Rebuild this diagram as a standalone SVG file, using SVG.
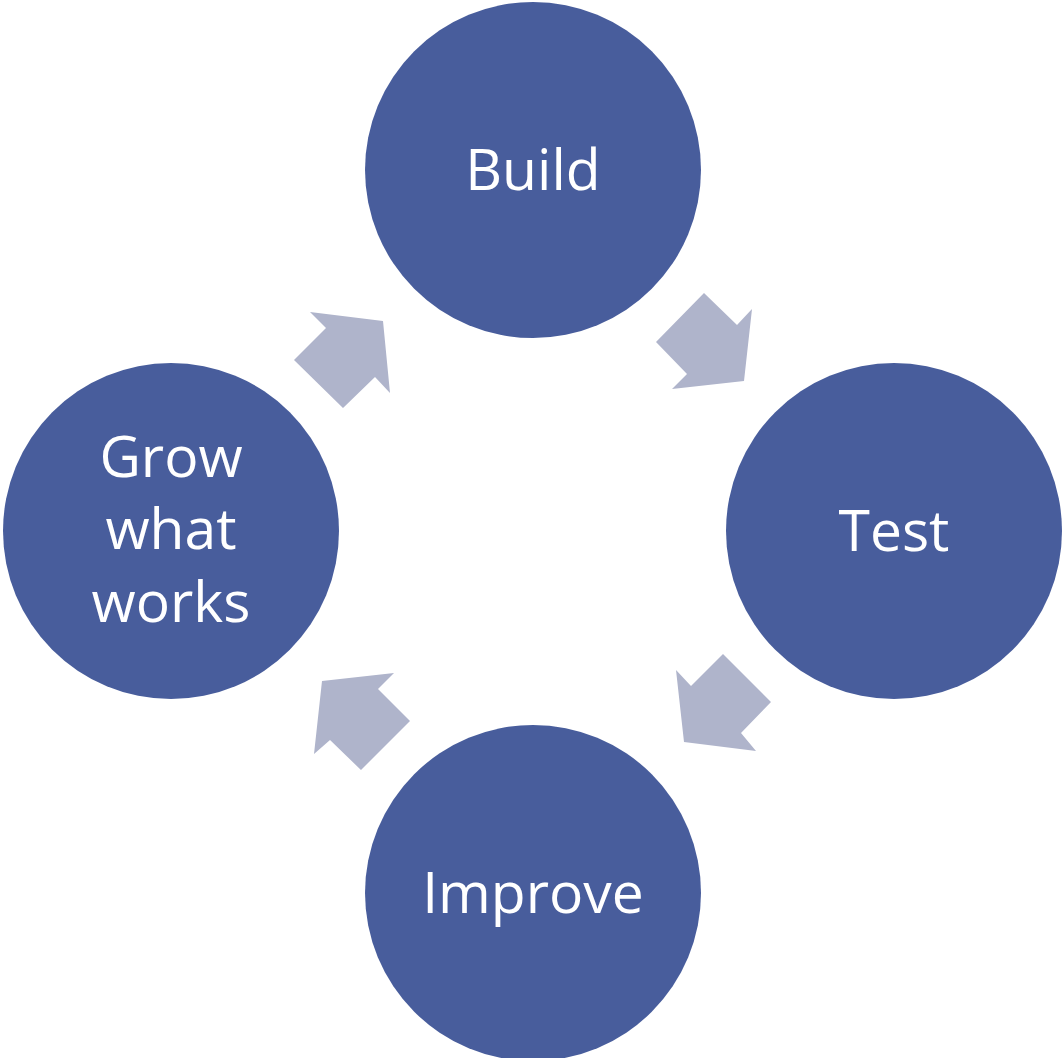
<svg xmlns="http://www.w3.org/2000/svg" width="1063" height="1058" viewBox="0 0 1063 1058">
<style>
.node{fill:#485D9C}
.lbl{fill:#FFFFFF;font-family:"Open Sans","Noto Sans",sans-serif;font-size:57px;text-anchor:middle}
.arr{fill:#AFB4CB}
</style>
<rect width="1063" height="1058" fill="#FFFFFF"/>
<g id="connectors">
<polygon class="arr" points="704,293 737,325 752,309 744,381 672,389 687,374 656,342"/>
<polygon class="arr" points="723,654 771,702 741,733 756,751 684,742 676,670 691,686"/>
<polygon class="arr" points="322,681 394,673 378,689 410,721 361,770 330,740 314,754"/>
<polygon class="arr" points="310,312 383,321 390,393 375,377 343,408 294,360 326,328"/>
</g>
<g id="build"><circle class="node" cx="533" cy="170" r="168"/><text class="lbl" x="533" y="190">Build</text></g>
<g id="test"><circle class="node" cx="894" cy="531" r="168"/><text class="lbl" x="894" y="551">Test</text></g>
<g id="improve"><circle class="node" cx="533" cy="893" r="168"/><text class="lbl" x="533" y="913">Improve</text></g>
<g id="grow"><circle class="node" cx="171" cy="531" r="168"/><text class="lbl" x="171" y="477">Grow</text><text class="lbl" x="171" y="549">what</text><text class="lbl" x="171" y="622">works</text></g>
</svg>
